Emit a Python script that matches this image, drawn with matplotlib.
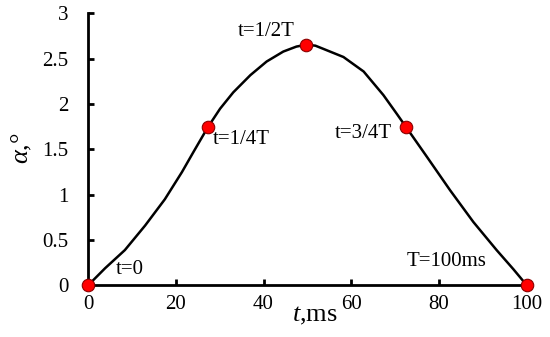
import matplotlib.pyplot as plt

plt.rcParams['font.family'] = ['Liberation Serif', 'DejaVu Serif']
plt.rcParams['mathtext.fontset'] = 'custom'
plt.rcParams['mathtext.it'] = 'Liberation Serif:italic'
plt.rcParams['mathtext.rm'] = 'Liberation Serif'

# curve
t_curve = [0, 3.9, 8.4, 13, 17.5, 21.4, 24, 27.3, 30.1, 33.1, 37, 40.7, 44.5,
           47.5, 49.7, 51.8, 53.6, 58.2, 62.8, 67.3, 70.4, 72.5, 77.2, 82.5,
           87.8, 93.1, 96.9, 100]
alpha_curve = [0, 0.19, 0.39, 0.66, 0.95, 1.25, 1.47, 1.745, 1.95, 2.13, 2.32,
               2.47, 2.58, 2.635, 2.655, 2.645, 2.61, 2.52, 2.36, 2.10, 1.89,
               1.745, 1.42, 1.05, 0.70, 0.39, 0.18, 0]

# marked instants
t_marks = [0, 27.3, 49.7, 72.5, 100]
alpha_marks = [0, 1.745, 2.655, 1.745, 0]
mark_labels = ['t=0', 't=1/4T', 't=1/2T', 't=3/4T']

fig = plt.figure(figsize=(5.5, 3.37), dpi=100)
ax = fig.add_axes([0.16, 0.153, 0.798, 0.807])

ax.plot(t_curve, alpha_curve, color='black', linewidth=1.8, solid_joinstyle='round')
ax.plot(t_marks, alpha_marks, 'o', markersize=9, markerfacecolor='#ff0000',
        markeredgecolor='#8b0000', markeredgewidth=0.8, clip_on=False, zorder=5)

ax.set_xlim(0, 100)
ax.set_ylim(0, 3)
ax.set_xticks([0, 20, 40, 60, 80, 100])
ax.set_yticks([0, 0.5, 1, 1.5, 2, 2.5, 3])
ax.set_yticklabels(['0', '0.5', '1', '1.5', '2', '2.5', '3'])

for s in ['top', 'right']:
    ax.spines[s].set_visible(False)
for s in ['left', 'bottom']:
    ax.spines[s].set_linewidth(2)

ax.tick_params(direction='in', length=4, width=2, labelsize=15)
ax.tick_params(axis='x', pad=7)
ax.tick_params(axis='y', pad=14)

fs = 15
label_pos = [(130, 270), (241, 140), (266, 32), (363, 133)]
for txt, (px, py) in zip(mark_labels, label_pos):
    fig.text(px / 550, 1 - py / 337, txt, fontsize=fs, ha='center', va='center')
fig.text(447 / 550, 1 - 261 / 337, 'T=100ms', fontsize=fs, ha='center', va='center')

fig.text(315 / 550, 1 - 316 / 337, r'$\mathit{t}$,ms', fontsize=19, ha='center', va='center')
fig.text(22 / 550, 1 - 148 / 337, r'$\mathit{\alpha}$,°', fontsize=19, ha='center',
         va='center', rotation=90)

fig.savefig('out.png', dpi=100)
